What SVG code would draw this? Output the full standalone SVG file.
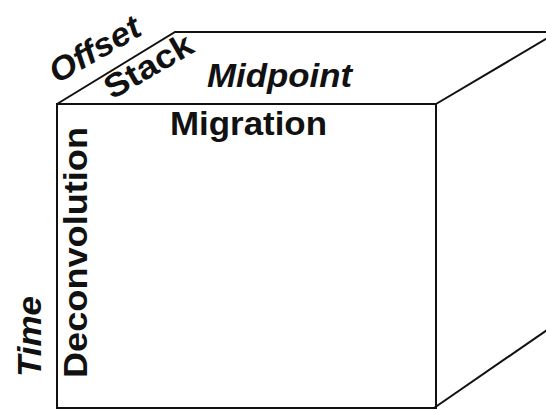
<svg xmlns="http://www.w3.org/2000/svg" width="546" height="409" viewBox="0 0 546 409">
<style>
.edge{fill:none;stroke:#111;stroke-width:2;stroke-linejoin:miter}
.lbl{font-family:"Liberation Sans",Arial,sans-serif;font-weight:bold;font-size:33px;fill:#111}
.it{font-style:italic}
</style>
<rect width="546" height="409" fill="#fff"/>
<g id="cube">
<path class="edge" d="M57,408 V104 H436 V408 Z"/>
<path class="edge" d="M57,104 L175,32 H546"/>
<path class="edge" d="M436,104 L556,33"/>
<path class="edge" d="M434,408 L547,330"/>
</g>
<g id="labels">
<text id="offset" class="lbl it" transform="translate(57,84) rotate(-30)" textLength="100" lengthAdjust="spacingAndGlyphs">Offset</text>
<text id="stack" class="lbl" transform="translate(112,100) rotate(-30)" textLength="97" lengthAdjust="spacingAndGlyphs">Stack</text>
<text id="midpoint" class="lbl it" x="207" y="87" textLength="145" lengthAdjust="spacingAndGlyphs">Midpoint</text>
<text id="migration" class="lbl" x="170" y="135" textLength="157" lengthAdjust="spacingAndGlyphs">Migration</text>
<text id="deconvolution" class="lbl" transform="translate(87,378) rotate(-90)" textLength="251" lengthAdjust="spacingAndGlyphs">Deconvolution</text>
<text id="time" class="lbl it" transform="translate(41,377) rotate(-90)" textLength="81" lengthAdjust="spacingAndGlyphs">Time</text>
</g>
</svg>
